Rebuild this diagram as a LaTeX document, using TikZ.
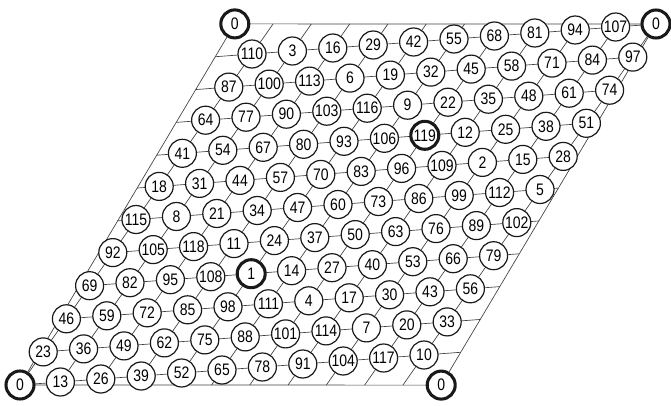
\documentclass[tikz,border=0pt]{standalone}
\usepackage{fontspec}
\setmainfont[FakeStretch=0.84]{Liberation Sans}
\usepackage{tikz}
\usetikzlibrary{backgrounds}
\tikzstyle{num}=[circle, draw=black!90, fill=white, minimum size=21pt,
  inner sep=0pt, font=\fontsize{12.5}{12.5}\selectfont]
\tikzstyle{grid}=[draw=black!75, line width=0.5pt]

\begin{document}
\begin{tikzpicture}[x={(30.3pt,2.25pt)}, y={(17.4pt,24.825pt)}]
\useasboundingbox (-15pt,-15pt) rectangle (488.25pt,288.75pt);
% residues 13i+23j mod 120 on the lattice
\foreach \i in {0,...,10}{
  \foreach \j in {0,...,10}{
    \pgfmathtruncatemacro{\val}{mod(13*\i+23*\j,120)}
    \def\lw{0.9pt}
    \ifnum\val=0 \def\lw{2.3pt}\fi
    \ifnum\val=1 \def\lw{2.3pt}\fi
    \ifnum\val=119 \def\lw{2.3pt}\fi
    \node[num,line width=\lw] (n-\i-\j) at (\i,\j) {\val};
  }
}
\node[num,line width=2.3pt] (zr) at (11,-1) {0};
\node[num,line width=2.3pt] (zl) at (-1,11) {0};
\begin{scope}[on background layer]
\foreach \j in {0,...,10}{
  \coordinate (l-\j) at ({-\j/11},\j);
  \coordinate (r-\j) at ({(120-\j)/11},\j);
  \draw[grid] (l-\j) -- (r-\j);
}
\foreach \i in {0,...,10}{
  \coordinate (b-\i) at (\i,{-\i/11});
  \coordinate (t-\i) at (\i,{(120-\i)/11});
  \draw[grid] (b-\i) -- (t-\i);
}
\draw[grid] (n-0-0.center) -- (zr.center) -- (n-10-10.center)
  -- (zl.center) -- cycle;
\end{scope}
\end{tikzpicture}
\end{document}
